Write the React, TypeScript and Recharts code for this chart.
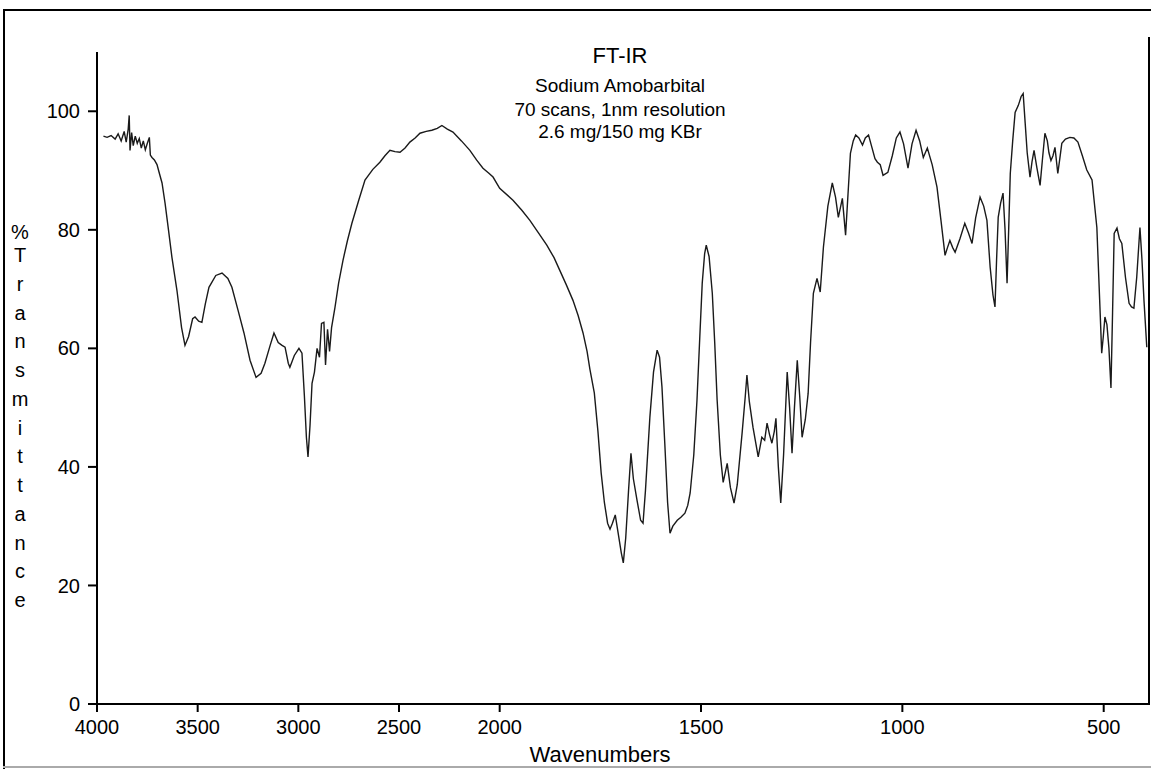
import { Line, LineChart, XAxis, YAxis } from 'recharts';

const FONT = '"Liberation Sans", Arial, sans-serif';

// wavenumber (cm-1) and % transmittance
const wavenumbers = [
  3968, 3950, 3930, 3910, 3895, 3880, 3865, 3855, 3845, 3840, 3836, 3828, 3820, 3810, 3800, 3790, 3780, 3770, 3760,
  3750, 3740, 3735, 3727, 3715, 3702, 3690, 3677, 3662, 3645, 3628, 3603, 3580, 3563, 3545, 3525, 3513, 3495, 3479,
  3462, 3444, 3410, 3379, 3350, 3330, 3300, 3270, 3240, 3210, 3185, 3166, 3140, 3121, 3100, 3081, 3066, 3050, 3042,
  3020, 2997, 2982, 2970, 2960, 2952, 2942, 2932, 2920, 2907, 2895, 2885, 2873, 2865, 2855, 2845, 2835, 2818, 2800,
  2778, 2756, 2734, 2700, 2669, 2630, 2595, 2570, 2545, 2520, 2495, 2470, 2446, 2420, 2396, 2365, 2337, 2310, 2287,
  2260, 2232, 2190, 2148, 2115, 2083, 2055, 2033, 2000, 1967, 1945, 1925, 1905, 1883, 1865, 1851, 1835, 1818, 1805,
  1793, 1783, 1776, 1765, 1756, 1748, 1740, 1732, 1726, 1720, 1713, 1705, 1698, 1693, 1687, 1680, 1674, 1668, 1659,
  1650, 1644, 1638, 1627, 1618, 1609, 1603, 1597, 1590, 1583, 1577, 1570, 1559, 1550, 1540, 1533, 1527, 1518, 1510,
  1503, 1497, 1491, 1487, 1480, 1472, 1466, 1460, 1452, 1445, 1435, 1427, 1418, 1410, 1398, 1390, 1386, 1380, 1371,
  1364, 1358, 1349, 1342, 1336, 1330, 1324, 1318, 1314, 1308, 1302, 1295, 1286, 1280, 1274, 1268, 1261, 1255, 1249,
  1241, 1234, 1228, 1221, 1212, 1204, 1196, 1185, 1174, 1166, 1159, 1149, 1141, 1135, 1129, 1122, 1116, 1108, 1099,
  1092, 1084, 1076, 1068, 1062, 1055, 1048, 1036, 1025, 1015, 1006, 997, 986, 976, 966, 957, 948, 938, 926, 914, 904,
  894, 888, 882, 875, 869, 857, 845, 836, 827, 818, 807, 798, 790, 782, 775, 770, 766, 762, 756, 750, 745, 740, 736,
  732, 726, 720, 712, 705, 700, 695, 690, 683, 678, 673, 666, 658, 652, 646, 640, 636, 631, 626, 621, 614, 609, 604,
  595, 584, 574, 564, 553, 542, 529, 517, 510, 505, 501, 497, 492, 487, 482, 478, 474, 467, 461, 455, 446, 437, 431,
  425, 418, 410, 405, 400, 393,
];

const transmittance = [
  95.8, 95.6, 95.9, 95.3, 96.2, 95.0, 96.6, 94.8, 97.0, 99.3, 93.4, 96.4, 94.2, 95.8, 94.6, 95.4, 93.8, 95.0, 93.5,
  94.6, 95.6, 92.6, 92.2, 91.8, 91.0, 89.5, 87.9, 84.5, 80.0, 75.4, 69.8, 63.5, 60.5, 62.0, 65.0, 65.3, 64.6, 64.4,
  67.5, 70.3, 72.3, 72.7, 71.8, 70.3, 66.5, 62.6, 58.0, 55.1, 55.8, 57.5, 60.5, 62.6, 61.0, 60.5, 60.2, 57.5, 56.8,
  58.8, 60.0, 59.2, 52.0, 45.0, 41.7, 47.0, 54.1, 56.0, 60.0, 58.5, 64.2, 64.4, 57.2, 63.2, 59.5, 63.5, 66.9, 71.0,
  74.9, 78.2, 81.1, 85.0, 88.4, 90.2, 91.4, 92.5, 93.4, 93.2, 93.1, 93.8, 94.8, 95.5, 96.3, 96.6, 96.8, 97.1, 97.6,
  97.0, 96.5, 95.0, 93.4, 91.8, 90.4, 89.6, 88.9, 87.0, 85.0, 83.3, 81.6, 79.6, 77.4, 75.3, 73.2, 70.8, 68.1, 65.5,
  62.6, 59.5, 56.5, 52.5, 46.0, 39.0, 34.0, 30.5, 29.5, 30.5, 31.9, 28.5, 25.5, 23.8, 28.0, 36.0, 42.3, 38.0, 34.4,
  31.0, 30.5, 36.0, 48.4, 56.0, 59.7, 58.5, 53.5, 44.0, 34.0, 28.8, 30.0, 31.0, 31.5, 32.2, 33.5, 35.6, 42.0, 51.3,
  62.0, 71.0, 76.0, 77.4, 75.5, 69.3, 61.0, 51.3, 42.0, 37.4, 40.6, 36.5, 33.9, 37.0, 45.7, 52.0, 55.5, 51.0, 46.7,
  44.0, 41.7, 45.0, 44.5, 47.4, 45.5, 44.0, 46.0, 48.2, 40.0, 33.9, 42.0, 56.0, 50.0, 42.3, 50.0, 58.0, 52.0, 45.0,
  48.0, 52.4, 61.0, 69.3, 71.8, 69.5, 77.1, 84.0, 87.9, 85.5, 82.1, 85.3, 79.1, 86.0, 92.9, 95.0, 96.0, 95.5, 94.3,
  95.5, 96.0, 94.0, 92.0, 91.4, 91.0, 89.2, 89.7, 92.5, 95.5, 96.5, 94.5, 90.4, 94.5, 96.8, 95.0, 92.2, 93.8, 91.0,
  87.2, 81.5, 75.7, 77.0, 78.2, 77.0, 76.2, 78.5, 81.1, 79.5, 77.7, 82.0, 85.5, 84.0, 81.6, 73.7, 69.0, 67.0, 75.0,
  82.1, 84.5, 86.2, 80.0, 71.0, 80.0, 89.5, 95.0, 99.8, 101.0, 102.5, 103.0, 98.0, 93.0, 88.9, 91.5, 93.4, 90.5,
  87.5, 92.0, 96.3, 95.0, 93.0, 91.7, 92.5, 93.9, 89.5, 92.0, 94.6, 95.3, 95.6, 95.5, 94.8, 92.5, 90.1, 88.4, 80.4,
  68.1, 59.2, 62.0, 65.3, 64.0, 60.0, 53.3, 66.0, 79.4, 80.3, 78.5, 77.7, 72.0, 67.6, 67.0, 66.8, 72.0, 80.4, 75.0,
  68.1, 60.2,
];

const xTickValues = [4000, 3500, 3000, 2500, 2000, 1500, 1000, 500];
const yTickValues = [0, 20, 40, 60, 80, 100];
const titleLines = ['FT-IR', 'Sodium Amobarbital', '70 scans, 1nm resolution', '2.6 mg/150 mg KBr'];
const yLabelLetters = 'Transmittance'.split('');

// the instrument plots below 2000 cm-1 at twice the scale, so the axis runs on a folded coordinate
const toAxis = (w: number) => (w >= 2000 ? (4000 - w) / 2 : 1000 + (2000 - w));
const fromAxis = (u: number) => (u <= 1000 ? 4000 - 2 * u : 2000 - (u - 1000));

const data = wavenumbers.map((w, i) => ({ u: toAxis(w), t: transmittance[i] }));

const titleStyle = (top: number, size: number) => ({
  position: 'absolute' as const,
  left: 620,
  top,
  transform: 'translateX(-50%)',
  fontSize: size,
  lineHeight: `${size}px`,
  whiteSpace: 'nowrap' as const,
  color: '#000',
});

export default function App() {
  return (
    <div style={{ position: 'absolute', left: 0, top: 0, width: 1151, height: 769, background: '#fff', fontFamily: FONT, overflow: 'hidden' }}>
      <LineChart width={1151} height={769} data={data} margin={{ top: 52, right: 3, bottom: 0, left: 0 }}>
        <XAxis
          type="number"
          dataKey="u"
          domain={[0, toAxis(390)]}
          ticks={xTickValues.map(toAxis)}
          tickFormatter={(u: number) => String(Math.round(fromAxis(u)))}
          interval={0}
          height={65}
          stroke="#000"
          axisLine={{ stroke: '#000', strokeWidth: 2 }}
          tickLine={{ stroke: '#000', strokeWidth: 2 }}
          tickSize={8}
          tickMargin={8}
          tick={{ fill: '#000', fontSize: 20, fontFamily: FONT }}
        />
        <YAxis
          type="number"
          domain={[0, 110]}
          ticks={yTickValues}
          interval={0}
          width={97}
          stroke="#000"
          axisLine={{ stroke: '#000', strokeWidth: 2 }}
          tickLine={{ stroke: '#000', strokeWidth: 2 }}
          tickSize={9}
          tickMargin={8}
          tick={{ fill: '#000', fontSize: 20, fontFamily: FONT }}
        />
        <Line type="linear" dataKey="t" stroke="#1a1a1a" strokeWidth={1.4} dot={false} isAnimationActive={false} />
      </LineChart>

      {/* outer frame and plot border */}
      <div style={{ position: 'absolute', left: 3, top: 9, width: 1148, height: 2, background: '#000' }} />
      <div style={{ position: 'absolute', left: 3, top: 9, width: 2, height: 760, background: '#000' }} />
      <div style={{ position: 'absolute', left: 3, top: 766, width: 1148, height: 2, background: '#aaa' }} />
      <div style={{ position: 'absolute', left: 1148, top: 37, width: 2, height: 668, background: '#000' }} />

      <div style={titleStyle(45, 22)}>{titleLines[0]}</div>
      <div style={titleStyle(76, 19)}>{titleLines[1]}</div>
      <div style={titleStyle(100, 19)}>{titleLines[2]}</div>
      <div style={titleStyle(122, 19)}>{titleLines[3]}</div>

      <div style={{ position: 'absolute', left: 600, top: 744, transform: 'translateX(-50%)', fontSize: 22, lineHeight: '22px', color: '#000' }}>
        Wavenumbers
      </div>

      <div style={{ position: 'absolute', left: 8, top: 220, width: 24, textAlign: 'center', fontSize: 20, lineHeight: '24px', color: '#000' }}>%</div>
      <div style={{ position: 'absolute', left: 8, top: 241, width: 24, display: 'flex', flexDirection: 'column', alignItems: 'center' }}>
        {yLabelLetters.map((ch, i) => (
          <div key={i} style={{ fontSize: 20, lineHeight: '28.75px', height: 28.75, color: '#000' }}>
            {ch}
          </div>
        ))}
      </div>
    </div>
  );
}
